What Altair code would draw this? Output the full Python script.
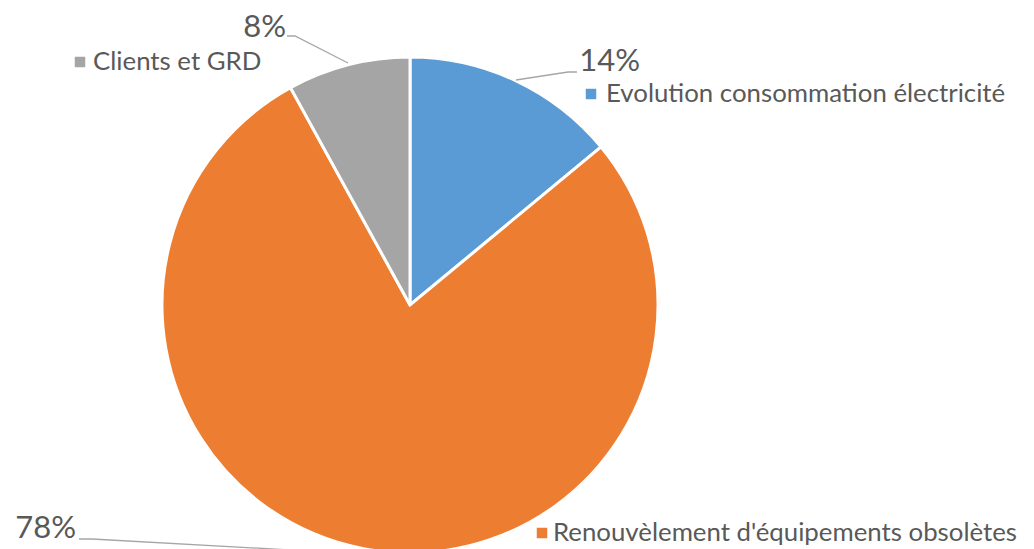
import altair as alt
import pandas as pd

# ---- data ----
categories = ["Evolution consommation électricité", "Renouvèlement d'équipements obsolètes", "Clients et GRD"]
values = [14, 78, 8]
colors = ["#5B9BD5", "#ED7D31", "#A5A5A5"]

# ---- layout (pixel positions of labels, markers, leader lines) ----
center = (410, 305)
radius = 248
pct_pos = [(640, 71), (76, 538), (286, 37)]          # right end / baseline of percentage labels
name_pos = [(606, 102), (553, 541), (93, 70)]        # left / baseline of category labels
marker_pos = [(591, 94), (542, 533), (80, 62)]       # legend square centres
leaders = [
    [(577, 72), (568, 72), (516, 80)],
    [(79, 539), (92, 539), (345, 553)],
    [(287, 36), (295, 36), (348, 63)],
]

pie_df = pd.DataFrame({"cat": categories, "val": values, "idx": list(range(len(values)))})
color_scale = alt.Scale(domain=categories, range=colors)

pie = alt.Chart(pie_df).mark_arc(stroke="white", strokeWidth=3).encode(
    theta=alt.Theta("val:Q", stack=True),
    order=alt.Order("idx:Q"),
    color=alt.Color("cat:N", scale=color_scale, legend=None),
    x=alt.value(center[0]),
    y=alt.value(center[1]),
    radius=alt.value(radius),
)

pct_df = pd.DataFrame({
    "txt": [f"{v}%" for v in values],
    "px": [p[0] for p in pct_pos],
    "py": [p[1] for p in pct_pos],
})
pct = alt.Chart(pct_df).mark_text(
    align="right", baseline="alphabetic", font="Lato", fontSize=31, color="#595959"
).encode(
    x=alt.X("px:Q", scale=None, axis=None),
    y=alt.Y("py:Q", scale=None, axis=None),
    text="txt:N",
)

name_df = pd.DataFrame({
    "txt": categories,
    "px": [p[0] for p in name_pos],
    "py": [p[1] for p in name_pos],
})
names = alt.Chart(name_df).mark_text(
    align="left", baseline="alphabetic", font="Lato", fontSize=25.8, color="#595959"
).encode(
    x=alt.X("px:Q", scale=None, axis=None),
    y=alt.Y("py:Q", scale=None, axis=None),
    text="txt:N",
)

mk_df = pd.DataFrame({
    "cat": categories,
    "px": [p[0] for p in marker_pos],
    "py": [p[1] for p in marker_pos],
})
markers = alt.Chart(mk_df).mark_square(size=110, opacity=1).encode(
    x=alt.X("px:Q", scale=None, axis=None),
    y=alt.Y("py:Q", scale=None, axis=None),
    color=alt.Color("cat:N", scale=color_scale, legend=None),
)

rows = []
for i, pts in enumerate(leaders):
    for j, (px, py) in enumerate(pts):
        rows.append({"line": i, "k": j, "px": px, "py": py})
ld_df = pd.DataFrame(rows)
lines = alt.Chart(ld_df).mark_line(color="#A6A6A6", strokeWidth=1.3).encode(
    x=alt.X("px:Q", scale=None, axis=None),
    y=alt.Y("py:Q", scale=None, axis=None),
    detail="line:N",
    order="k:Q",
)

chart = alt.layer(pie, lines, markers, pct, names).properties(
    width=1034, height=549, padding=0, autosize=alt.AutoSizeParams(type="none"),
    background="white",
).configure_view(stroke=None)

chart.save("out.html", embed_options={"renderer": "svg", "actions": False})
